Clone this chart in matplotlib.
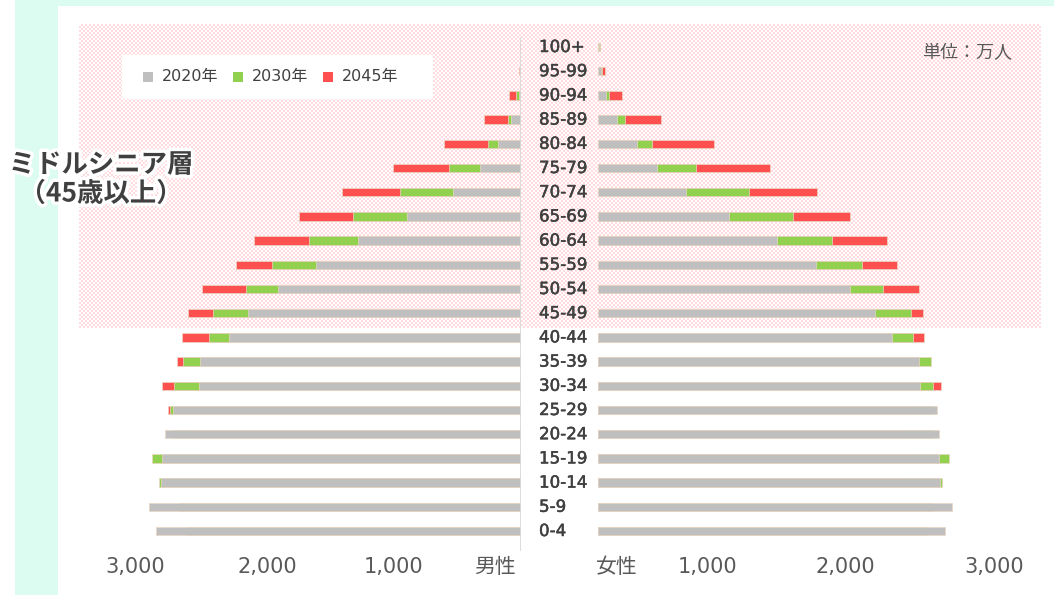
import numpy as np
import matplotlib
matplotlib.use("Agg")
import matplotlib.pyplot as plt
from matplotlib.patches import Rectangle
from matplotlib.transforms import blended_transform_factory
import matplotlib.patheffects as pe

plt.rcParams['font.family'] = ['DejaVu Sans', 'Noto Sans CJK JP']
JP = ['Noto Sans CJK JP', 'DejaVu Sans']
MIX = ['DejaVu Sans', 'Noto Sans CJK JP']

# 年齢階級（上から）
ages = ['100+', '95-99', '90-94', '85-89', '80-84', '75-79', '70-74', '65-69',
        '60-64', '55-59', '50-54', '45-49', '40-44', '35-39', '30-34', '25-29',
        '20-24', '15-19', '10-14', '5-9', '0-4']

# 男性
male_2020 = [1, 4, 16, 75, 176, 318, 525, 884, 1264, 1589, 1884, 2114,
             2266, 2486, 2496, 2695, 2760, 2783, 2793, 2884, 2829]
male_2030 = [2, 8, 36, 103, 256, 558, 936, 1300, 1643, 1930, 2134, 2385,
             2419, 2622, 2692, 2723, 2700, 2858, 2804, 2650, 2600]
male_2045 = [4, 16, 91, 284, 599, 992, 1390, 1719, 2070, 2209, 2471, 2579,
             2628, 2664, 2781, 2739, 2550, 2500, 2450, 2350, 2300]

# 女性
female_2020 = [8, 23, 60, 150, 300, 457, 684, 1016, 1390, 1690, 1951, 2150,
               2279, 2491, 2496, 2628, 2646, 2643, 2653, 2747, 2688]
female_2030 = [12, 33, 88, 207, 421, 760, 1168, 1512, 1814, 2047, 2209, 2426,
               2444, 2581, 2597, 2600, 2600, 2723, 2667, 2600, 2550]
female_2045 = [16, 54, 188, 491, 899, 1331, 1695, 1956, 2243, 2318, 2488, 2519,
               2529, 2450, 2659, 2400, 2350, 2400, 2350, 2250, 2200]

years = ['2020年', '2030年', '2045年']
colors = ['#bfbfbf', '#92d050', '#ff5050']
tick_text = ['3,000', '2,000', '1,000', '男性', '女性', '1,000', '2,000', '3,000']

W, H = 1054, 595
fig = plt.figure(figsize=(W / 100, H / 100), dpi=100)
fig.patch.set_facecolor('white')


def fx(x):
    return x / W


def fy(y):
    return 1 - y / H


# 背景
bg = fig.add_axes([0, 0, 1, 1], zorder=-10)
bg.set_xlim(0, W)
bg.set_ylim(H, 0)
bg.axis('off')
mint = '#dcfcf1'
bg.add_patch(Rectangle((15, 0), 43, H, color=mint, lw=0))
bg.add_patch(Rectangle((15, 0), W - 15, 6, color=mint, lw=0))
# ピンクの網掛け（ミドルシニア層）
ph, pw = 328 - 24, 1041 - 79
yy, xx = np.mgrid[0:ph, 0:pw]
chk = ((yy // 2 + xx // 2) % 2).astype(float)
pink = np.array([1.0, 0.86, 0.88])
img = np.ones((ph, pw, 3))
img[chk == 1] = pink
bg.imshow(img, extent=(79, 1041, 328, 24), interpolation='nearest', aspect='auto')

# 軸の配置
n = len(ages)
ypos = np.arange(n)[::-1]
row0, step = 531, 24.2
ytop = (row0 - 24) / step
ybot = (row0 - 551) / step
scale = 0.129  # px per unit

ax_m = fig.add_axes([fx(79), fy(551), fx(521 - 79), (551 - 24) / H])
ax_f = fig.add_axes([fx(598), fy(551), fx(1041 - 598), (551 - 24) / H])
for ax in (ax_m, ax_f):
    ax.set_facecolor('none')
    ax.set_ylim(ybot, ytop)
    for s in ax.spines.values():
        s.set_visible(False)
    ax.set_xticks([])
    ax.set_yticks([])
ax_m.set_xlim((521 - 79) / scale, 0)
ax_f.set_xlim(0, (1041 - 598) / scale)

bh = 0.35
male = [male_2020, male_2030, male_2045]
female = [female_2020, female_2030, female_2045]
for k in [2, 1, 0]:
    ax_m.barh(ypos, male[k], height=bh, color=colors[k],
              edgecolor='#ead6c2', linewidth=0.5, zorder=3 - k * 0.1)
    ax_f.barh(ypos, female[k], height=bh, color=colors[k],
              edgecolor='#ead6c2', linewidth=0.5, zorder=3 - k * 0.1)

ax_m.axvline(0, ymin=0, ymax=(551 - 38) / (551 - 24), color='#d9d9d9', lw=2, zorder=5)

# 年齢ラベル
tr = blended_transform_factory(fig.transFigure, ax_m.transData)
for a, y in zip(ages, ypos):
    ax_m.text(fx(539), y, a, transform=tr, ha='left', va='center',
              fontsize=12, color='#404040', clip_on=False,
              path_effects=[pe.withStroke(linewidth=0.35, foreground='#404040')])

# 下のラベル
tick_x = [135, 267, 393, 495, 617, 708, 845, 994]
for t, x in zip(tick_text, tick_x):
    fig.text(fx(x), fy(567), t, ha='center', va='center', fontsize=15,
             color='#595959', family=MIX)

# 凡例
bg.add_patch(Rectangle((122, 55), 311, 44, color='white', lw=0))
leg_sq = [143, 233, 323]
for x, c, lab in zip(leg_sq, colors, years):
    bg.add_patch(Rectangle((x, 72), 10, 10, color=c, lw=0))
    bg.text(x + 19, 77, lab, ha='left', va='center', fontsize=11.5,
            color='#404040', family=MIX)

fig.text(fx(967), fy(53), '単位：万人', ha='center', va='center', fontsize=13,
         color='#595959', family=JP)

glow = [pe.withStroke(linewidth=5, foreground='white')]
fig.text(fx(101), fy(165), 'ミドルシニア層', ha='center', va='center', fontsize=19,
         fontweight='bold', color='#404040', family=JP, path_effects=glow)
fig.text(fx(101), fy(194), '（45歳以上）', ha='center', va='center', fontsize=19,
         fontweight='bold', color='#404040', family=JP, path_effects=glow)

fig.savefig('out.png', dpi=100)
